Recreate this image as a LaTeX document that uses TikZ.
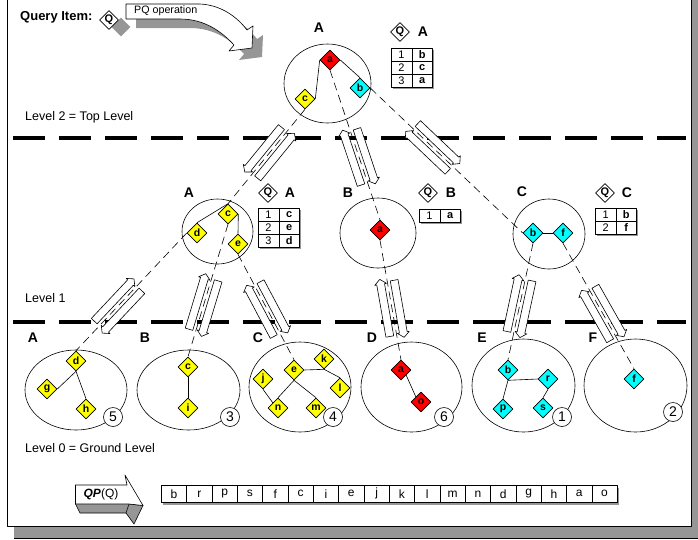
\documentclass[tikz,border=0pt]{standalone}
\usepackage{fontspec}
\setmainfont{Liberation Sans}
\usetikzlibrary{shapes.geometric,shapes.arrows,calc}
\definecolor{dyel}{RGB}{255,255,0}
\definecolor{dred}{RGB}{255,0,0}
\definecolor{dcya}{RGB}{0,255,255}
\definecolor{shgray}{RGB}{150,150,150}
\newcommand\fs[1]{\fontsize{#1}{#1}\selectfont}
\tikzset{
  dia/.style={diamond, aspect=1, draw, line width=0.6, minimum size=20, inner sep=0, font=\bfseries\fs{10.5}},
  ydia/.style={dia, fill=dyel},
  rdia/.style={dia, fill=dred},
  cdia/.style={dia, fill=dcya},
  qdia/.style={dia, fill=white, minimum size=19, font=\bfseries\fs{11}},
  grp/.style={ellipse, draw, line width=0.6, inner sep=0},
  glabel/.style={font=\bfseries\fs{14}, inner sep=0},
  lvltext/.style={anchor=west, font=\fs{12.5}, inner sep=0},
  levelline/.style={line width=3.5, dash pattern=on 32pt off 14pt},
  conn/.style={line width=0.6, dash pattern=on 8pt off 5pt},
  link/.style={line width=0.6},
  flow/.style={single arrow, draw, fill=white, line width=0.6, minimum height=58, minimum width=12, inner xsep=0, inner ysep=3.5, single arrow head extend=2, single arrow tip angle=100},
  numc/.style={circle, draw, fill=white, line width=0.6, minimum size=19, inner sep=0, font=\fs{14}},
  cellL/.style={rectangle, draw, fill=white, line width=0.6, minimum width=20.5, minimum height=13, inner sep=0, font=\fs{11}},
  cellR/.style={cellL, line width=0.9, font=\bfseries\fs{11}},
  seqbox/.style={rectangle, draw, fill=white, line width=0.6, minimum width=25.33, minimum height=17, inner sep=0, font=\fs{12}},
  shadowfill/.style={fill=shgray},
}
% pair of opposite flow arrows along a connector
\newcommand\flowpair[4]{%
  \path let \p1=($(#2)-(#1)$), \n1={atan2(\y1,\x1)} in
    ($($(#1)!#3!(#2)$)!7pt!90:(#2)$) node[flow, rotate=\n1+#4] {}
    ($($(#1)!#3!(#2)$)!7pt!-90:(#2)$) node[flow, rotate=\n1+180+#4] {};}
% query result table
\newcommand\qtab[4]{%
  \foreach \nn/\ll [count=\ii from 0] in {#3} {
    \fill[shadowfill] (#1+2, #2+\ii*13+2) rectangle ++(41,13);
    \node[cellL, anchor=north west] (#4-\ii-n) at (#1, #2+\ii*13) {\nn};
    \node[cellR, anchor=north west] (#4-\ii-l) at (#1+20.5, #2+\ii*13) {\ll};
  }}
\begin{document}
\begin{tikzpicture}[x=1pt,y=-1pt,line join=round]
\useasboundingbox (0,0) rectangle (698,539);
% frame with shadow
\fill[shadowfill] (14,526) rectangle (698,539);
\fill[shadowfill] (691,0) rectangle (698,539);
\draw[line width=0.6] (14,538.5) -- (698,538.5);
\draw[line width=0.9] (7,0) -- (7,526) -- (691,526) -- (691,0);

% level separators
\draw[levelline] (13,138) -- (686,138);
\draw[levelline] (13,322) -- (686,322);
\node[lvltext] (lv2) at (25,117) {Level 2 = Top Level};
\node[lvltext] (lv1) at (25,298) {Level 1};
\node[lvltext] (lv0) at (25,448) {Level 0 = Ground Level};

% query item
\node[anchor=west, font=\bfseries\fs{13}, inner sep=0] (qi) at (20,17) {Query Item:};
\node[qdia, fill=shgray, draw=none] (qsh) at (121,27) {};
\node[qdia] (qq) at (109,20) {Q};
\begin{scope}[shift={(10,9)}]
\fill[shadowfill] (126,4) -- (200,4) .. controls (222,5) and (238,18) .. (247,30) -- (253,26) -- (252,48) -- (229,51) -- (234,45) .. controls (222,32) and (205,19) .. (180,19) -- (126,19) -- cycle;
\end{scope}
\draw[line width=0.6, fill=white] (126,4) -- (200,4) .. controls (222,5) and (238,18) .. (247,30) -- (253,26) -- (252,48) -- (229,51) -- (234,45) .. controls (222,32) and (205,19) .. (180,19) -- (126,19) -- cycle;
\node[anchor=west, font=\fs{10.7}, inner sep=0] (pq) at (134,11) {PQ operation};

% group ellipses
\node[grp, minimum width=87, minimum height=79] (TA) at (327.5,83.5) {};
\node[grp, minimum width=71, minimum height=65] (GA) at (217.5,231.5) {};
\node[grp, minimum width=76, minimum height=70] (GB) at (378,233) {};
\node[grp, minimum width=72, minimum height=70] (GC) at (549,234) {};
\node[grp, minimum width=102, minimum height=80] (HA) at (76,390) {};
\node[grp, minimum width=103, minimum height=80] (HB) at (188.5,390) {};
\node[grp, minimum width=102, minimum height=90] (HC) at (300,387) {};
\node[grp, minimum width=101, minimum height=90] (HD) at (411.5,387) {};
\node[grp, minimum width=103, minimum height=93] (HE) at (523.5,385.5) {};
\node[grp, minimum width=103, minimum height=93] (HF) at (635.5,385.5) {};

% group labels
\node[glabel] (lTA) at (319,28) {A};
\node[glabel] (lGA) at (189,193) {A};
\node[glabel] (lGB) at (348,193) {B};
\node[glabel] (lGC) at (522,192) {C};
\node[glabel] (lHA) at (33,338) {A};
\node[glabel] (lHB) at (145,338) {B};
\node[glabel] (lHC) at (258,338) {C};
\node[glabel] (lHD) at (372,338) {D};
\node[glabel] (lHE) at (482,338) {E};
\node[glabel] (lHF) at (593,338) {F};

% diamonds: top level
\node[rdia] (Ta) at (330,60) {a};
\node[cdia] (Tb) at (360,88) {b};
\node[ydia] (Tc) at (305,99) {c};
% level 1
\node[ydia] (Ac) at (228,214) {c};
\node[ydia] (Ad) at (197,233) {d};
\node[ydia] (Ae) at (238,244) {e};
\node[rdia] (Ba) at (380,230) {a};
\node[cdia] (Cb) at (533,233) {b};
\node[cdia] (Cf) at (563,233) {f};
% level 0
\node[ydia] (A0d) at (76,361) {d};
\node[ydia] (A0g) at (47,389) {g};
\node[ydia] (A0h) at (86,409) {h};
\node[ydia] (B0c) at (188,367) {c};
\node[ydia] (B0i) at (188,408) {i};
\node[ydia] (C0e) at (294,370) {e};
\node[ydia] (C0k) at (324,359) {k};
\node[ydia] (C0j) at (263,379) {j};
\node[ydia] (C0l) at (340,388) {l};
\node[ydia] (C0n) at (278,408) {n};
\node[ydia] (C0m) at (316,408) {m};
\node[rdia] (D0a) at (401,370) {a};
\node[rdia] (D0o) at (421,402) {o};
\node[cdia] (E0b) at (508,370) {b};
\node[cdia] (E0r) at (548,379) {r};
\node[cdia] (E0p) at (503,409) {p};
\node[cdia] (E0s) at (543,408) {s};
\node[cdia] (F0f) at (634,379) {f};

% solid links inside groups
\draw[link] (Ta.west) -- (Tc.east);
\draw[link] (Ta.east) -- (Tb.north);
\draw[link] (Ac.north) -- (Ad.north);
\draw[link] (Ac.east) -- (Ae.north);
\draw[link] (Cb.east) -- (Cf.west);
\draw[link] (A0d.south) -- (A0g.east);
\draw[link] (A0d.south) -- (A0h.north);
\draw[link] (B0c.south) -- (B0i.north);
\draw[link] (C0e.south) -- (C0n.north);
\draw[link] (C0e.south) -- (C0m.north);
\draw[link] (C0e.east) -- (C0k.south) -- (C0l.north);
\draw[link] (C0j.south) -- (C0n.north west);
\draw[link] (D0a.south east) -- (D0o.north west);
\draw[link] (E0b.south) -- (E0r.west);
\draw[link] (E0b.south) -- (E0p.north);
\draw[link] (E0r.south) -- (E0s.north);

% dashed connectors between levels
\draw[conn] (Tc.south) -- (Ac.north);
\draw[conn] (Ta.south) -- (Ba.north);
\draw[conn] (Tb.east) -- (Cb.west);
\draw[conn] (Ad.west) -- (A0d.north);
\draw[conn] (Ac.south) -- (B0c.north);
\draw[conn] (Ae.south) -- (C0e.north);
\draw[conn] (Ba.south) -- (D0a.north);
\draw[conn] (Cb.south) -- (E0b.north);
\draw[conn] (Cf.south) -- (F0f.north);

% flow arrow pairs
\flowpair{Tc.south}{Ac.north}{0.46}{180}
\flowpair{Ta.south}{Ba.north}{0.58}{0}
\flowpair{Tb.east}{Cb.west}{0.41}{0}
\flowpair{Ad.west}{A0d.north}{0.62}{0}
\flowpair{Ac.south}{B0c.north}{0.61}{0}
\flowpair{Ae.south}{C0e.north}{0.52}{0}
\flowpair{Ba.south}{D0a.north}{0.57}{0}
\flowpair{Cb.south}{E0b.north}{0.54}{0}
\flowpair{Cf.south}{F0f.north}{0.56}{0}

% query headers and tables
\node[qdia] (qTA) at (400,32) {Q};
\node[glabel] (qTAl) at (423,32) {A};
\qtab{391}{48}{1/b,2/c,3/a}{tTA}
\node[qdia] (qGA) at (268,193) {Q};
\node[glabel] (qGAl) at (290,193) {A};
\qtab{258}{208}{1/c,2/e,3/d}{tGA}
\node[qdia] (qGB) at (428,193) {Q};
\node[glabel] (qGBl) at (451,193) {B};
\qtab{419}{209}{1/a}{tGB}
\node[qdia] (qGC) at (605,193) {Q};
\node[glabel] (qGCl) at (627,193) {C};
\qtab{595}{208}{1/b,2/f}{tGC}

% peer counts
\node[numc] (n5) at (113,417) {5};
\node[numc] (n3) at (230,417) {3};
\node[numc] (n4) at (333,417) {4};
\node[numc] (n6) at (444,417) {6};
\node[numc] (n1) at (562,417) {1};
\node[numc] (n2) at (673,412) {2};

% QP(Q) 3D arrow
\fill[shadowfill] (75.5,504) -- (129,504) -- (126,513) -- (80,513) -- cycle;
\draw[line width=0.6] (75.5,504) -- (80,513) -- (126,513);
\draw[line width=0.6, shadowfill] (129,504) -- (143,505.5) -- (134,524) -- (126,513) -- cycle;
\draw[line width=0.6, fill=white] (75.5,485) -- (127,485) -- (125,475) -- (143,505.5) -- (129,504) -- (75.5,504) -- cycle;
\node[font=\fs{12}, inner sep=0] (qp) at (101,494.5) {\textbf{\textit{QP}}(Q)};

% result sequence
\foreach \lt [count=\k from 0] in {b,r,p,s,f,c,i,e,j,k,l,m,n,d,g,h,a,o} {
  \fill[shadowfill] (161+\k*25.33+2, 488) rectangle ++(25.33,17);
  \node[seqbox, anchor=north west] (s\k) at (161+\k*25.33, 485) {\lt};
}
\end{tikzpicture}
\end{document}
